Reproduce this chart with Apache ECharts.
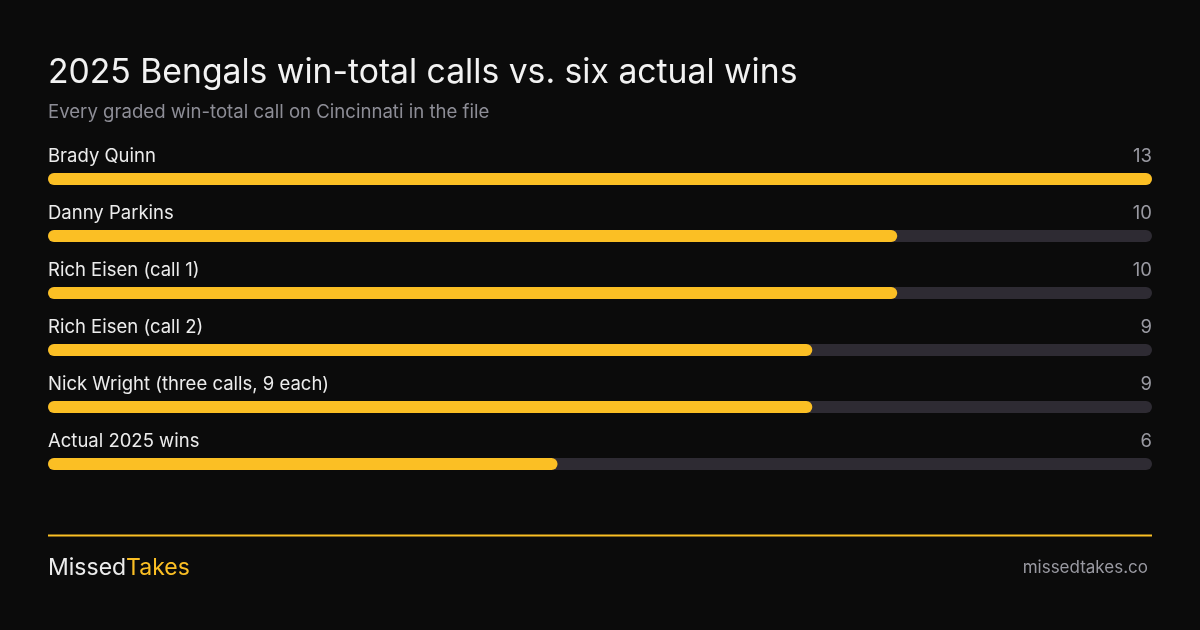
<!DOCTYPE html>
<html><head><meta charset="utf-8">
<script src="https://cdn.jsdelivr.net/npm/echarts@6/dist/echarts.min.js"></script>
<style>html,body{margin:0;padding:0;background:#0b0b0b;}#c{width:1200px;height:630px;}</style>
</head><body><div id="c"></div>
<script>
const categories = ["Brady Quinn","Danny Parkins","Rich Eisen (call 1)","Rich Eisen (call 2)","Nick Wright (three calls, 9 each)","Actual 2025 wins"];
const values = [13,10,10,9,9,6];
const scaleMax = 13;

const chart = echarts.init(document.getElementById('c'));
const FONT = 'Inter, "Noto Sans", sans-serif';
chart.setOption({
  backgroundColor:'#0b0b0b',
  animation:false,
  title:[{
    text:'2025 Bengals win-total calls vs. six actual wins',
    left:48, top:55.5, padding:0,
    textStyle:{color:'#f2f2f2', fontSize:33.7, fontWeight:400, fontFamily:FONT}
  },{
    text:'Every graded win-total call on Cincinnati in the file',
    left:48, top:103, padding:0,
    textStyle:{color:'#8d8d96', fontSize:18.6, fontWeight:400, fontFamily:FONT}
  }],
  grid:{left:48,right:48,top:150.5,bottom:137.5,containLabel:false},
  xAxis:{type:'value',min:0,max:scaleMax,show:false},
  yAxis:{type:'category',data:categories,inverse:true,show:false},
  series:[{
    type:'bar',
    data:categories.map(()=>scaleMax),
    barWidth:12,
    barGap:'-100%',
    itemStyle:{color:'#2e2b33',borderRadius:6},
    label:{show:true,position:['100%',-17],align:'right',verticalAlign:'middle',
      formatter:(p)=>String(values[p.dataIndex]),
      color:'#9a9aa2',fontSize:18.5,fontFamily:FONT},
    silent:true,z:1
  },{
    type:'bar',
    data:values,
    barWidth:12,
    itemStyle:{color:'#fbbf24',borderRadius:6},
    label:{show:true,position:[0,-17],align:'left',verticalAlign:'middle',
      formatter:(p)=>categories[p.dataIndex],
      color:'#ececec',fontSize:18.5,fontFamily:FONT},
    z:2
  }],
  graphic:[
    {type:'rect',shape:{x:48,y:534.5,width:1104,height:2},style:{fill:'#fbbf24'}},
    {type:'text',left:48,top:557,style:{
      text:'{a|Missed}{b|Takes}',
      rich:{a:{fill:'#ececec',fontSize:23,fontFamily:FONT},b:{fill:'#fbbf24',fontSize:23,fontFamily:FONT}}
    }},
    {type:'text',right:52,top:559,style:{text:'missedtakes.co',fill:'#9a9aa2',fontSize:17,fontFamily:FONT}}
  ]
});
</script></body></html>
